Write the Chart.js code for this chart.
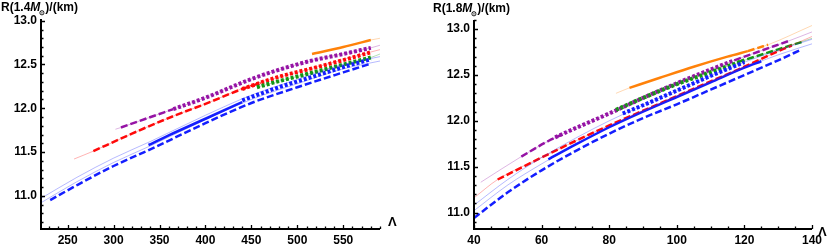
<!DOCTYPE html>
<html>
<head>
<meta charset="utf-8">
<script src="https://cdn.jsdelivr.net/npm/chart.js@4.4.1/dist/chart.umd.min.js"></script>
<style>
  body { margin: 0; background: #fff; width: 830px; height: 246px; position: relative; overflow: hidden; font-family: 'Liberation Sans', Arial, sans-serif; }
  .panel { position: absolute; top: 0; width: 415px; height: 246px; }
  #leftBox { left: 0; }
  #rightBox { left: 415px; }
  .ttl { position: absolute; font-size: 12px; font-weight: bold; white-space: nowrap; color: #000; }
  .sun { font-size: 7px; position: relative; top: 4px; margin-left: -1px; }
</style>
</head>
<body>
<div class="panel" id="leftBox"><canvas id="leftChart"></canvas></div>
<div class="panel" id="rightBox"><canvas id="rightChart"></canvas></div>
<div class="ttl" style="left:1px;top:0px">R(1.4<i>M</i><span class="sun">⊙</span>)/(km)</div>
<div class="ttl" style="left:433px;top:1px">R(1.8<i>M</i><span class="sun">⊙</span>)/(km)</div>
<div class="ttl" style="left:388px;top:214px;font-size:13px">Λ</div>
<div class="ttl" style="left:818px;top:224px;font-size:13px">Λ</div>
<script>
// ---- left panel: R(1.4 Msun) vs Lambda ----
const L_xTicks = [250, 300, 350, 400, 450, 500, 550];
const L_yTicks = [11.0, 11.5, 12.0, 12.5, 13.0];

const L_blueDash_x = [231, 260, 300, 340, 400, 450, 500, 550, 580];
const L_blueDash_y = [10.95, 11.12, 11.34, 11.53, 11.83, 12.06, 12.24, 12.41, 12.51];
const L_blueSolid_x = [338, 360, 400, 440];
const L_blueSolid_y = [11.58, 11.69, 11.88, 12.07];
const L_blueDot_x = [440, 480, 520, 550, 580];
const L_blueDot_y = [12.09, 12.24, 12.37, 12.47, 12.56];
const L_blueThin_x = [221, 260, 300, 340, 400, 450, 500, 550, 590];
const L_blueThinA_y = [10.92, 11.16, 11.38, 11.57, 11.87, 12.10, 12.28, 12.45, 12.54];
const L_blueThinB_y = [10.97, 11.21, 11.43, 11.62, 11.92, 12.15, 12.33, 12.50, 12.59];

const L_redThin_x = [257, 278, 320, 365, 400, 449, 514, 579, 590];
const L_redThin_y = [11.42, 11.51, 11.71, 11.91, 12.05, 12.26, 12.45, 12.64, 12.67];
const L_redDash_x = [278, 320, 365, 400, 440, 460];
const L_redDash_y = [11.51, 11.71, 11.91, 12.05, 12.22, 12.29];
const L_redDot_x = [440, 480, 514, 550, 580];
const L_redDot_y = [12.22, 12.36, 12.45, 12.55, 12.64];

const L_purThin_x = [302, 308, 335, 365, 400, 449, 514, 580, 590];
const L_purThin_y = [11.76, 11.78, 11.88, 11.99, 12.12, 12.33, 12.54, 12.69, 12.72];
const L_purDash_x = [308, 335, 365];
const L_purDash_y = [11.78, 11.88, 11.99];
const L_purDot_x = [365, 400, 449, 480, 514, 550, 580];
const L_purDot_y = [11.99, 12.12, 12.33, 12.44, 12.54, 12.62, 12.69];

const L_grnThin_x = [456, 480, 514, 550, 580, 590];
const L_grnThin_y = [12.24, 12.31, 12.40, 12.50, 12.58, 12.62];
const L_grnDot_x = [456, 480, 514, 550, 580];
const L_grnDot_y = [12.24, 12.31, 12.40, 12.50, 12.58];

const L_orgThin_x = [516, 550, 580, 590];
const L_orgThin_y = [12.62, 12.70, 12.78, 12.80];
const L_orgSolid_x = [516, 550, 580];
const L_orgSolid_y = [12.62, 12.70, 12.78];

// ---- right panel: R(1.8 Msun) vs Lambda ----
const R_xTicks = [40, 60, 80, 100, 120, 140];
const R_yTicks = [11.0, 11.5, 12.0, 12.5, 13.0];

const R_blueDash_x = [40, 50, 60, 70, 80, 90, 100, 110, 120, 130, 137];
const R_blueDash_y = [10.94, 11.22, 11.46, 11.67, 11.86, 12.03, 12.18, 12.34, 12.50, 12.66, 12.78];
const R_blueSolid_x = [62, 70, 80, 90, 100, 110, 120, 125];
const R_blueSolid_y = [11.58, 11.74, 11.93, 12.10, 12.26, 12.42, 12.58, 12.65];
const R_blueDot_x = [84, 90, 100, 110, 120];
const R_blueDot_y = [12.08, 12.17, 12.33, 12.49, 12.64];
const R_blueThin_x = [40, 50, 60, 70, 80, 90, 100, 110, 120, 130, 140];
const R_blueThinA_y = [11.02, 11.30, 11.53, 11.74, 11.93, 12.10, 12.26, 12.42, 12.58, 12.72, 12.84];
const R_blueThinB_y = [11.08, 11.36, 11.60, 11.81, 12.00, 12.17, 12.33, 12.49, 12.64, 12.77, 12.89];

const R_redThin_x = [40, 47, 60, 70, 80, 90, 100, 110, 120, 130, 140];
const R_redThin_y = [11.16, 11.36, 11.60, 11.78, 11.95, 12.11, 12.27, 12.43, 12.59, 12.76, 12.92];
const R_redDash_x = [47, 60, 70, 80, 90, 100, 110, 120, 130, 134];
const R_redDash_y = [11.36, 11.60, 11.78, 11.95, 12.11, 12.27, 12.43, 12.59, 12.76, 12.82];

const R_purThin_x = [42, 54, 62, 70, 80, 90, 100, 110, 120, 133, 140];
const R_purThin_y = [11.33, 11.61, 11.78, 11.92, 12.08, 12.25, 12.41, 12.56, 12.70, 12.87, 12.97];
const R_purDash1_x = [54, 62, 66];
const R_purDash1_y = [11.61, 11.78, 11.85];
const R_purDot_x = [64, 70, 80, 90, 100, 110, 117];
const R_purDot_y = [11.82, 11.92, 12.08, 12.25, 12.41, 12.56, 12.66];
const R_purDash2_x = [117, 120, 133];
const R_purDash2_y = [12.66, 12.70, 12.87];

const R_grnThin_x = [82, 90, 100, 110, 120, 130, 140];
const R_grnThin_y = [12.12, 12.25, 12.40, 12.53, 12.66, 12.78, 12.90];
const R_grnDot_x = [82, 90, 100, 110, 120];
const R_grnDot_y = [12.12, 12.25, 12.40, 12.53, 12.66];
const R_grnDash_x = [118, 130, 137];
const R_grnDash_y = [12.64, 12.78, 12.86];

const R_orgThin_x = [82, 86, 95, 105, 115, 121, 127, 140];
const R_orgThin_y = [12.30, 12.36, 12.47, 12.59, 12.70, 12.76, 12.83, 13.04];
const R_orgSolid_x = [86, 95, 105, 115, 121];
const R_orgSolid_y = [12.36, 12.47, 12.59, 12.70, 12.76];
const R_orgDash_x = [121, 127];
const R_orgDash_y = [12.76, 12.83];

const BLUE = 'rgb(20,30,255)';
const RED = 'rgb(255,10,10)';
const GREEN = 'rgb(20,150,20)';
const PURPLE = 'rgb(150,20,165)';
const ORANGE = 'rgb(255,130,10)';

function fade(c, a) {
  return c.replace('rgb', 'rgba').replace(')', ',' + a + ')');
}

function line(xs, ys, color, width, dash) {
  return {
    data: xs.map((x, i) => ({ x: x, y: ys[i] })),
    borderColor: color,
    borderWidth: width,
    borderDash: dash || [],
    borderCapStyle: 'butt',
    pointRadius: 0,
    fill: false,
    cubicInterpolationMode: 'monotone',
  };
}
function thin(xs, ys, color) {
  return line(xs, ys, fade(color, 0.35), 0.9);
}
function dashed(xs, ys, color) {
  return line(xs, ys, color, 2.5, [7, 3]);
}
function dotted(xs, ys, color) {
  return line(xs, ys, color, 4, [3, 2]);
}
function solid(xs, ys, color) {
  return line(xs, ys, color, 2.5);
}

const leftSets = [
  thin(L_blueThin_x, L_blueThinA_y, BLUE),
  thin(L_blueThin_x, L_blueThinB_y, BLUE),
  thin(L_redThin_x, L_redThin_y, RED),
  thin(L_purThin_x, L_purThin_y, PURPLE),
  thin(L_grnThin_x, L_grnThin_y, GREEN),
  thin(L_orgThin_x, L_orgThin_y, ORANGE),
  dashed(L_blueDash_x, L_blueDash_y, BLUE),
  solid(L_blueSolid_x, L_blueSolid_y, BLUE),
  dotted(L_blueDot_x, L_blueDot_y, BLUE),
  dotted(L_grnDot_x, L_grnDot_y, GREEN),
  dashed(L_redDash_x, L_redDash_y, RED),
  dotted(L_redDot_x, L_redDot_y, RED),
  dashed(L_purDash_x, L_purDash_y, PURPLE),
  dotted(L_purDot_x, L_purDot_y, PURPLE),
  solid(L_orgSolid_x, L_orgSolid_y, ORANGE),
];

const rightSets = [
  thin(R_blueThin_x, R_blueThinA_y, BLUE),
  thin(R_blueThin_x, R_blueThinB_y, BLUE),
  thin(R_redThin_x, R_redThin_y, RED),
  thin(R_purThin_x, R_purThin_y, PURPLE),
  thin(R_grnThin_x, R_grnThin_y, GREEN),
  thin(R_orgThin_x, R_orgThin_y, ORANGE),
  dashed(R_blueDash_x, R_blueDash_y, BLUE),
  solid(R_blueSolid_x, R_blueSolid_y, BLUE),
  dotted(R_blueDot_x, R_blueDot_y, BLUE),
  dashed(R_redDash_x, R_redDash_y, RED),
  dotted(R_grnDot_x, R_grnDot_y, GREEN),
  dashed(R_grnDash_x, R_grnDash_y, GREEN),
  dashed(R_purDash1_x, R_purDash1_y, PURPLE),
  dotted(R_purDot_x, R_purDot_y, PURPLE),
  dashed(R_purDash2_x, R_purDash2_y, PURPLE),
  solid(R_orgSolid_x, R_orgSolid_y, ORANGE),
  dashed(R_orgDash_x, R_orgDash_y, ORANGE),
];

// frame with inward ticks, drawn from the scales
const frameAxes = {
  id: 'frameAxes',
  afterDatasetsDraw(chart, args, o) {
    const { ctx, chartArea: a, scales: { x, y } } = chart;
    ctx.save();
    ctx.strokeStyle = '#000';
    ctx.lineWidth = 2;
    ctx.beginPath();
    ctx.moveTo(a.left, a.top);
    ctx.lineTo(a.left, a.bottom);
    ctx.lineTo(a.right, a.bottom);
    ctx.stroke();
    ctx.lineWidth = 1.3;
    ctx.beginPath();
    const nx = Math.round((o.xTo - o.xFrom) / o.xMinor);
    for (let i = 0; i <= nx; i++) {
      const v = o.xFrom + i * o.xMinor;
      const px = Math.round(x.getPixelForValue(v)) + 0.5;
      const major = Math.abs(v / o.xMajor - Math.round(v / o.xMajor)) < 1e-6;
      ctx.moveTo(px, a.bottom);
      ctx.lineTo(px, a.bottom - (major ? 4 : 2.5));
    }
    const ny = Math.round((o.yTo - o.yFrom) / o.yMinor);
    for (let i = 0; i <= ny; i++) {
      const v = o.yFrom + i * o.yMinor;
      const py = Math.round(y.getPixelForValue(v)) + 0.5;
      const major = Math.abs(v / o.yMajor - Math.round(v / o.yMajor)) < 1e-6;
      ctx.moveTo(a.left, py);
      ctx.lineTo(a.left + (major ? 4 : 2.5), py);
    }
    ctx.stroke();
    ctx.restore();
  },
};

function makeChart(id, sets, xr, yr, xTicks, yTicks, pad, yWidth, frame) {
  return new Chart(document.getElementById(id), {
    type: 'line',
    data: { datasets: sets },
    plugins: [frameAxes],
    options: {
      responsive: false,
      animation: false,
      events: [],
      layout: { padding: pad },
      plugins: { legend: { display: false }, tooltip: { enabled: false }, frameAxes: frame },
      scales: {
        x: {
          type: 'linear', min: xr[0], max: xr[1],
          grid: { display: false, drawTicks: false },
          border: { display: false },
          afterBuildTicks: (s) => { s.ticks = xTicks.map((v) => ({ value: v })); },
          afterFit: (s) => { s.height = 17; },
          ticks: { padding: 4, color: '#000', font: { family: 'Liberation Sans', size: 12, weight: 'bold' }, maxRotation: 0, autoSkip: false, callback: (v) => String(v) },
        },
        y: {
          type: 'linear', min: yr[0], max: yr[1],
          grid: { display: false, drawTicks: false },
          border: { display: false },
          afterBuildTicks: (s) => { s.ticks = yTicks.map((v) => ({ value: v })); },
          afterFit: (s) => { s.width = yWidth; },
          ticks: { padding: 4, color: '#000', font: { family: 'Liberation Sans', size: 12, weight: 'bold' }, autoSkip: false, callback: (v) => v.toFixed(1) },
        },
      },
    },
  });
}

for (const id of ['leftChart', 'rightChart']) {
  const c = document.getElementById(id);
  c.width = 415; c.height = 246;
  c.style.width = '415px'; c.style.height = '246px';
}

makeChart('leftChart', leftSets, [221, 590], [10.62, 13.02], L_xTicks, L_yTicks,
  { top: 19, right: 35, left: 0, bottom: 0 }, 41,
  { xFrom: 230, xTo: 590, xMinor: 10, xMajor: 50, yFrom: 10.7, yTo: 13.0, yMinor: 0.1, yMajor: 0.5 });

makeChart('rightChart', rightSets, [40, 140], [10.82, 13.1], R_xTicks, R_yTicks,
  { top: 20, right: 18, left: 0, bottom: 0 }, 59,
  { xFrom: 40, xTo: 140, xMinor: 5, xMajor: 20, yFrom: 10.9, yTo: 13.1, yMinor: 0.1, yMajor: 0.5 });
</script>
</body>
</html>
